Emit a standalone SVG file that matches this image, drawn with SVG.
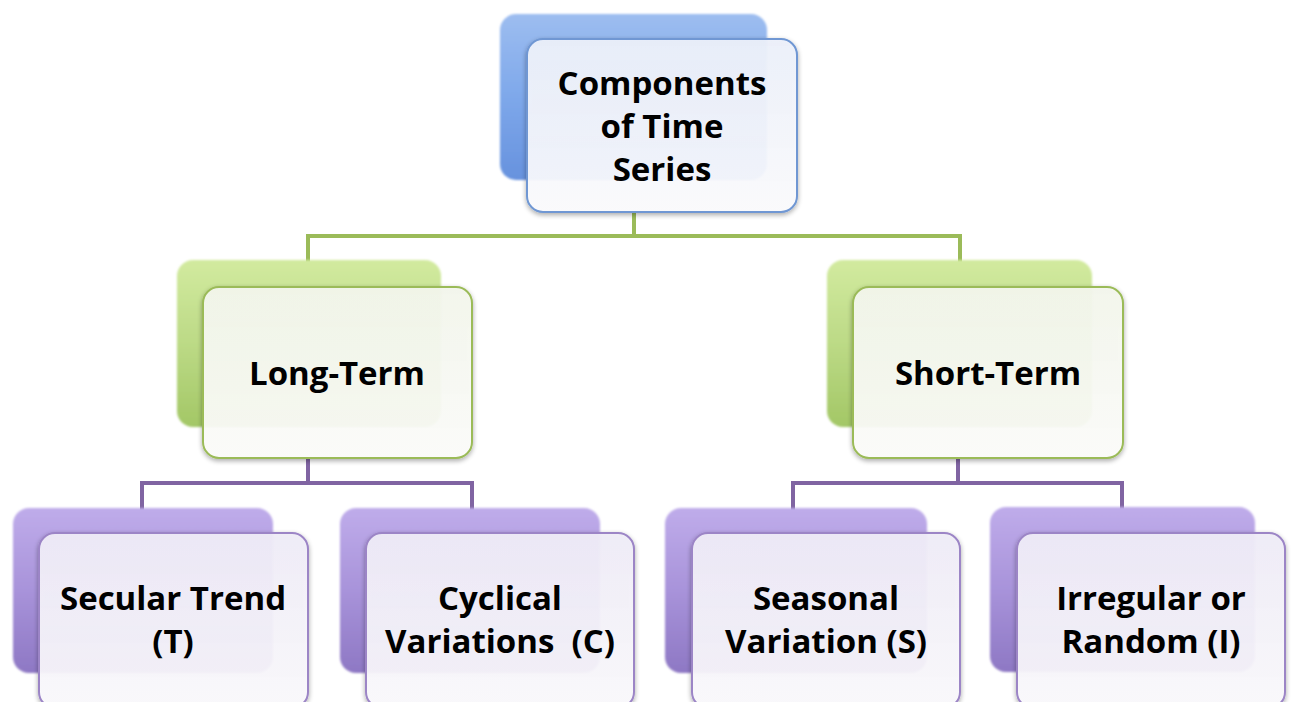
<svg xmlns="http://www.w3.org/2000/svg" width="1293" height="702" viewBox="0 0 1293 702">
<style>
.lbl{font-family:"Open Sans","Noto Sans","Liberation Sans",sans-serif;font-weight:bold;font-size:33px;fill:#000;text-anchor:middle;white-space:pre}
.green{stroke:#9bbb59;stroke-width:4;fill:none}
.purple{stroke:#8064a2;stroke-width:4;fill:none}
.fb{stroke:#6f97d3;stroke-width:2}
.fg{stroke:#9bbb59;stroke-width:2}
.fp{stroke:#9c85c6;stroke-width:2}
</style>
<defs>
<linearGradient id="bb" x1="0" y1="0" x2="0" y2="1"><stop offset="0" stop-color="#9dbdf0"/><stop offset="0.5" stop-color="#7ea8ea"/><stop offset="1" stop-color="#6792de"/></linearGradient>
<linearGradient id="bg" x1="0" y1="0" x2="0" y2="1"><stop offset="0" stop-color="#d2ea9f"/><stop offset="0.5" stop-color="#bcda86"/><stop offset="1" stop-color="#a3c766"/></linearGradient>
<linearGradient id="bp" x1="0" y1="0" x2="0" y2="1"><stop offset="0" stop-color="#bfacea"/><stop offset="0.5" stop-color="#a893da"/><stop offset="1" stop-color="#8e78c4"/></linearGradient>
<linearGradient id="ffb" x1="0" y1="0" x2="0" y2="1"><stop offset="0" stop-color="#edf1fb" stop-opacity="0.94"/><stop offset="1" stop-color="#fdfdff" stop-opacity="0.92"/></linearGradient>
<linearGradient id="ffg" x1="0" y1="0" x2="0" y2="1"><stop offset="0" stop-color="#f4f7ed" stop-opacity="0.94"/><stop offset="1" stop-color="#fefefc" stop-opacity="0.92"/></linearGradient>
<linearGradient id="ffp" x1="0" y1="0" x2="0" y2="1"><stop offset="0" stop-color="#f0edf8" stop-opacity="0.94"/><stop offset="1" stop-color="#fcfbfe" stop-opacity="0.92"/></linearGradient>
<filter id="soft" x="-10%" y="-10%" width="120%" height="125%"><feGaussianBlur in="SourceAlpha" stdDeviation="2.5"/><feOffset dy="2" result="b"/><feComponentTransfer><feFuncA type="linear" slope="0.35"/></feComponentTransfer><feMerge><feMergeNode/><feMergeNode in="SourceGraphic"/></feMerge></filter>
<filter id="bev" x="-5%" y="-5%" width="110%" height="110%"><feGaussianBlur stdDeviation="0.8"/></filter>
</defs>
<rect width="1293" height="702" fill="#fff"/>
<g id="connectors">
<path class="green" d="M634 212V236M308 236H960M308 234V262M960 234V262"/>
<path class="purple" d="M308 458V483M142 483H472M142 481V510M472 481V510"/>
<path class="purple" d="M958 458V483M793 483H1122M793 481V510M1122 481V510"/>
</g>
<g id="node-root">
<rect x="500" y="14" width="267" height="166" rx="16" fill="url(#bb)" filter="url(#bev)"/>
<rect x="527" y="39" width="270" height="173" rx="16" fill="url(#ffb)" class="fb" filter="url(#soft)"/>
<text class="lbl" x="662" y="95">Components</text>
<text class="lbl" x="662" y="138">of Time</text>
<text class="lbl" x="662" y="181">Series</text>
</g>
<g id="node-long">
<rect x="177" y="260" width="264" height="167" rx="16" fill="url(#bg)" filter="url(#bev)"/>
<rect x="203" y="287" width="269" height="171" rx="16" fill="url(#ffg)" class="fg" filter="url(#soft)"/>
<text class="lbl" x="337" y="385">Long-Term</text>
</g>
<g id="node-short">
<rect x="827" y="260" width="265" height="167" rx="16" fill="url(#bg)" filter="url(#bev)"/>
<rect x="853" y="287" width="270" height="171" rx="16" fill="url(#ffg)" class="fg" filter="url(#soft)"/>
<text class="lbl" x="988" y="385">Short-Term</text>
</g>
<g id="node-secular">
<rect x="13" y="508" width="260" height="165" rx="16" fill="url(#bp)" filter="url(#bev)"/>
<rect x="39" y="533" width="269" height="175" rx="16" fill="url(#ffp)" class="fp" filter="url(#soft)"/>
<text class="lbl" x="173" y="610">Secular Trend</text>
<text class="lbl" x="173" y="653">(T)</text>
</g>
<g id="node-cyclical">
<rect x="340" y="508" width="260" height="165" rx="16" fill="url(#bp)" filter="url(#bev)"/>
<rect x="366" y="533" width="268" height="175" rx="16" fill="url(#ffp)" class="fp" filter="url(#soft)"/>
<text class="lbl" x="500" y="610">Cyclical</text>
<text class="lbl" x="500" y="653">Variations  (C)</text>
</g>
<g id="node-seasonal">
<rect x="665" y="508" width="262" height="165" rx="16" fill="url(#bp)" filter="url(#bev)"/>
<rect x="692" y="533" width="268" height="175" rx="16" fill="url(#ffp)" class="fp" filter="url(#soft)"/>
<text class="lbl" x="826" y="610">Seasonal</text>
<text class="lbl" x="826" y="653">Variation (S)</text>
</g>
<g id="node-irregular">
<rect x="990" y="507" width="265" height="165" rx="16" fill="url(#bp)" filter="url(#bev)"/>
<rect x="1017" y="533" width="268" height="175" rx="16" fill="url(#ffp)" class="fp" filter="url(#soft)"/>
<text class="lbl" x="1151" y="610">Irregular or</text>
<text class="lbl" x="1151" y="653">Random (I)</text>
</g>
</svg>
